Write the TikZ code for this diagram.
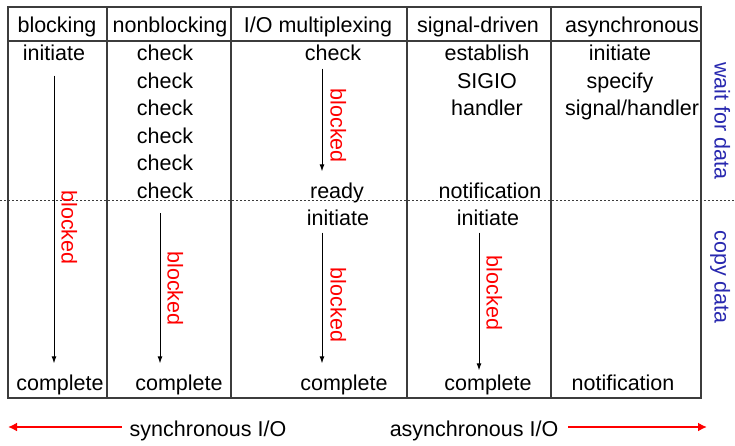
\documentclass[tikz,border=0pt]{standalone}
\usepackage{fontspec}
\setmainfont{Liberation Sans}
\usepackage{tikz}
\usetikzlibrary{arrows.meta,positioning,calc}
\definecolor{grid}{RGB}{60,60,60}
\definecolor{sideblue}{RGB}{40,40,175}
\tikzset{
  txt/.style={inner sep=0pt,text height=15pt,text depth=0pt,font=\fontsize{21.5}{25}\selectfont},
  blk/.style={txt,text=red,rotate=-90},
  side/.style={txt,text=sideblue,rotate=-90},
  tbl/.style={draw=grid,line width=1.4pt},
  arr/.style={-{Latex[length=7pt,width=5pt]},line width=0.9pt},
  rarr/.style={-{Latex[length=9pt,width=9pt]},red,line width=2.2pt},
}
\begin{document}
\begin{tikzpicture}[x=1pt,y=-1pt]
  \useasboundingbox (0,0) rectangle (735,445);
  % table frame
  \draw[tbl] (8,7) rectangle (701,398);
  \draw[tbl] (8,41) -- (701,41);
  \foreach \x in {107,231,407,551} \draw[tbl] (\x,7) -- (\x,398);
  \draw[grid,line width=1pt,dash pattern=on 2pt off 2pt] (0,200) -- (735,200);
  % column heads
  \node[txt] (hb) at (57,25) {blocking};
  \node[txt] (hn) at (170,25) {nonblocking};
  \node[txt] (hm) at (318,25) {I/O multiplexing};
  \node[txt] (hs) at (478,25) {signal-driven};
  \node[txt] (ha) at (632,25) {asynchronous};
  % blocking
  \node[txt] (bi) at (54,53) {initiate};
  \node[txt] (bc) at (60,383) {complete};
  \draw[arr,shorten <=15pt,shorten >=12pt] (bi.south) -- (bi.south |- bc.north)
    node[pos=.53,xshift=15pt,blk] {blocked};
  % nonblocking
  \foreach \i in {1,...,6}
    \node[txt] (nc\i) at (165,{53+27.5*(\i-1)}) {check};
  \node[txt] (nbc) at (179,383) {complete};
  \draw[arr,shorten <=15pt,shorten >=12pt] ([xshift=-5pt]nc6.south) -- ([xshift=-5pt]nc6.south |- nbc.north)
    node[pos=.51,xshift=15pt,blk] {blocked};
  % I/O multiplexing
  \node[txt] (mc) at (333,53) {check};
  \node[txt] (mr) at (337,191) {ready};
  \node[txt] (mi) at (338,218) {initiate};
  \node[txt] (mco) at (344,383) {complete};
  \draw[arr,shorten <=8pt,shorten >=12pt] ([xshift=-11pt]mc.south) -- ([xshift=-11pt]mc.south |- mr.north)
    node[pos=.53,xshift=16pt,blk] {blocked};
  \draw[arr,shorten <=7pt,shorten >=12pt] ([xshift=-16pt]mi.south) -- ([xshift=-16pt]mi.south |- mco.north)
    node[pos=.53,xshift=16pt,blk] {blocked};
  % signal-driven
  \node[txt] (se) at (487,53) {establish};
  \node[txt] (ss) at (487,80.5) {SIGIO};
  \node[txt] (sh) at (487,108) {handler};
  \node[txt] (sn) at (490,191) {notification};
  \node[txt] (si) at (488,218) {initiate};
  \node[txt] (sc) at (488,383) {complete};
  \draw[arr,shorten <=7pt,shorten >=5pt] ([xshift=-9pt]si.south) -- ([xshift=-9pt]si.south |- sc.north)
    node[pos=.45,xshift=15pt,blk] {blocked};
  % asynchronous
  \node[txt] (ai) at (620,53) {initiate};
  \node[txt] (as) at (620,80.5) {specify};
  \node[txt] (ah) at (632,108) {signal/handler};
  \node[txt] (an) at (623,383) {notification};
  % phases
  \node[side] (wd) at (722,121) {wait for data};
  \node[side] (cd) at (722,277) {copy data};
  % bottom
  \node[txt] (sync) at (208,429) {synchronous I/O};
  \node[txt] (async) at (474,429) {asynchronous I/O};
  \coordinate (sl) at (8,427);
  \coordinate (ar) at (707,427);
  \draw[rarr,shorten <=8pt] (sync.west |- sl) -- (sl);
  \draw[rarr,shorten <=10pt] (async.east |- ar) -- (ar);
\end{tikzpicture}
\end{document}
